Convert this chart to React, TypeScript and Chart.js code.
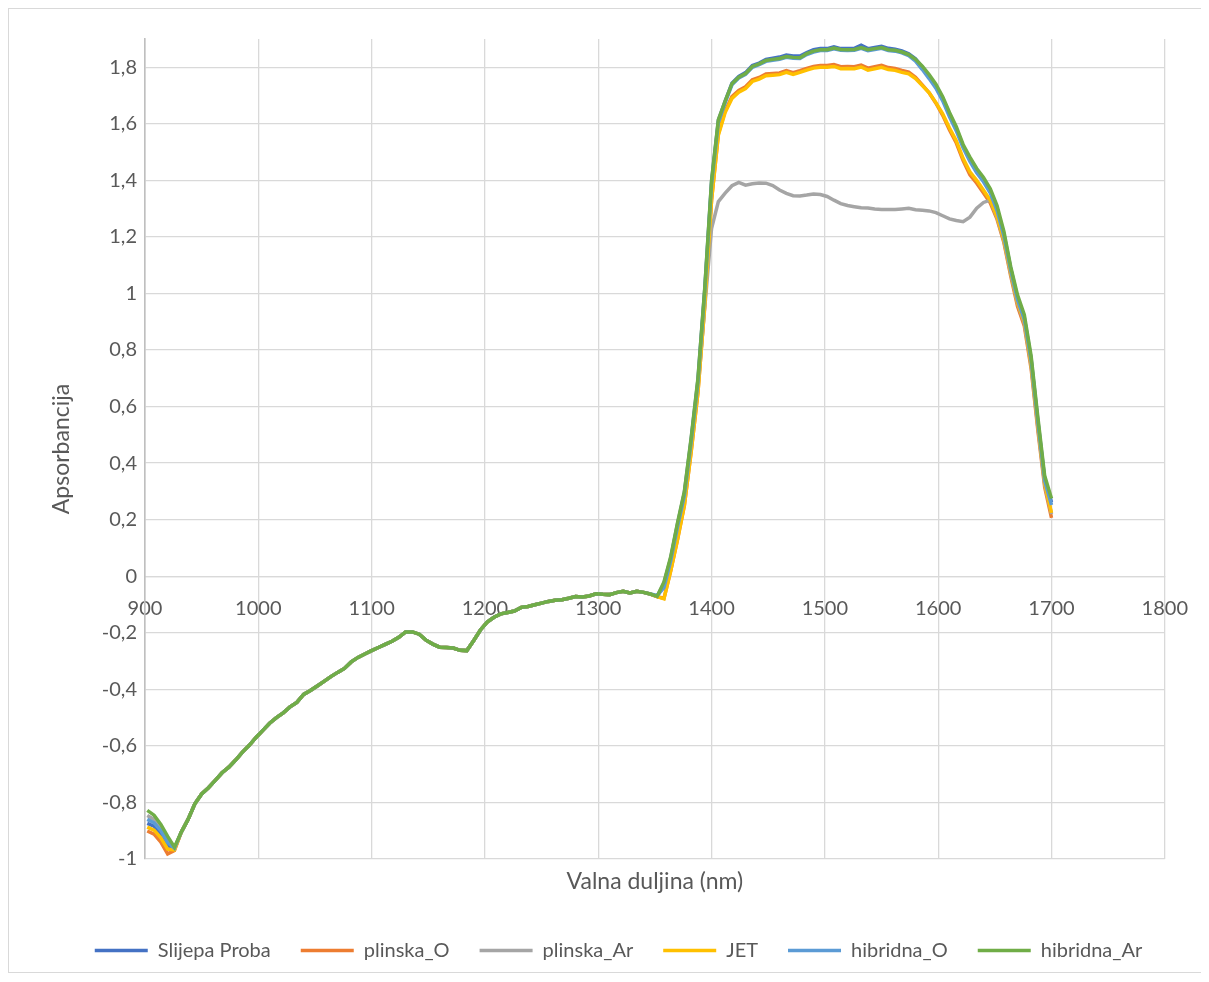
import React, { useEffect, useRef } from "react";
import { Chart, registerables } from "chart.js";

Chart.register(...registerables);

const wavelengths = [
  902, 908, 914, 920, 926, 932, 938, 944, 950, 956,
  962, 968, 974, 980, 986, 992, 998, 1004, 1010, 1016,
  1022, 1028, 1034, 1040, 1046, 1052, 1058, 1064, 1070, 1076,
  1082, 1088, 1094, 1100, 1106, 1112, 1118, 1124, 1130, 1136,
  1142, 1148, 1154, 1160, 1166, 1172, 1178, 1184, 1190, 1196,
  1202, 1208, 1214, 1220, 1226, 1232, 1238, 1244, 1250, 1256,
  1262, 1268, 1274, 1280, 1286, 1292, 1298, 1304, 1310, 1316,
  1322, 1328, 1334, 1340, 1346, 1352, 1358, 1364, 1370, 1376,
  1382, 1388, 1394, 1400, 1406, 1412, 1418, 1424, 1430, 1436,
  1442, 1448, 1454, 1460, 1466, 1472, 1478, 1484, 1490, 1496,
  1502, 1508, 1514, 1520, 1526, 1532, 1538, 1544, 1550, 1556,
  1562, 1568, 1574, 1580, 1586, 1592, 1598, 1604, 1610, 1616,
  1622, 1628, 1634, 1640, 1646, 1652, 1658, 1664, 1670, 1676,
  1682, 1688, 1694, 1700,
];

const slijepaProba = [
  -0.874, -0.884, -0.910, -0.952, -0.965, -0.905, -0.860, -0.805, -0.770, -0.748,
  -0.722, -0.695, -0.675, -0.650, -0.622, -0.598, -0.570, -0.545, -0.520, -0.500,
  -0.483, -0.462, -0.446, -0.418, -0.404, -0.388, -0.372, -0.355, -0.340, -0.326,
  -0.303, -0.287, -0.275, -0.263, -0.252, -0.241, -0.230, -0.216, -0.197, -0.197,
  -0.205, -0.226, -0.240, -0.251, -0.252, -0.254, -0.262, -0.263, -0.228, -0.190,
  -0.162, -0.145, -0.133, -0.128, -0.123, -0.110, -0.107, -0.101, -0.095, -0.089,
  -0.085, -0.083, -0.078, -0.072, -0.073, -0.070, -0.062, -0.064, -0.065, -0.058,
  -0.053, -0.059, -0.053, -0.057, -0.063, -0.072, -0.025, 0.065, 0.185, 0.295,
  0.485, 0.695, 1.015, 1.395, 1.612, 1.680, 1.744, 1.768, 1.781, 1.806,
  1.815, 1.828, 1.832, 1.836, 1.843, 1.840, 1.840, 1.852, 1.862, 1.866,
  1.866, 1.872, 1.866, 1.866, 1.867, 1.878, 1.866, 1.870, 1.874, 1.867,
  1.864, 1.858, 1.848, 1.830, 1.800, 1.768, 1.734, 1.690, 1.634, 1.582,
  1.522, 1.474, 1.434, 1.402, 1.362, 1.300, 1.210, 1.090, 0.985, 0.915,
  0.770, 0.550, 0.345, 0.262,
];

const plinskaO = [
  -0.901, -0.912, -0.940, -0.982, -0.970, -0.905, -0.860, -0.805, -0.770, -0.748,
  -0.722, -0.695, -0.675, -0.650, -0.622, -0.598, -0.570, -0.545, -0.520, -0.500,
  -0.483, -0.462, -0.446, -0.418, -0.404, -0.388, -0.372, -0.355, -0.340, -0.326,
  -0.303, -0.287, -0.275, -0.263, -0.252, -0.241, -0.230, -0.216, -0.197, -0.197,
  -0.205, -0.226, -0.240, -0.251, -0.252, -0.254, -0.262, -0.263, -0.228, -0.190,
  -0.162, -0.145, -0.133, -0.128, -0.123, -0.110, -0.107, -0.101, -0.095, -0.089,
  -0.085, -0.083, -0.078, -0.072, -0.073, -0.070, -0.062, -0.064, -0.065, -0.058,
  -0.053, -0.059, -0.053, -0.057, -0.063, -0.072, -0.078, 0.020, 0.130, 0.250,
  0.440, 0.650, 0.960, 1.330, 1.565, 1.645, 1.696, 1.718, 1.731, 1.756,
  1.764, 1.776, 1.778, 1.780, 1.788, 1.781, 1.788, 1.796, 1.803, 1.806,
  1.806, 1.810, 1.802, 1.803, 1.802, 1.808, 1.797, 1.802, 1.807, 1.799,
  1.796, 1.789, 1.783, 1.765, 1.738, 1.710, 1.673, 1.630, 1.578, 1.532,
  1.470, 1.420, 1.390, 1.355, 1.320, 1.262, 1.180, 1.062, 0.955, 0.885,
  0.735, 0.515, 0.315, 0.206,
];

const plinskaAr = [
  -0.846, -0.860, -0.890, -0.932, -0.962, -0.905, -0.860, -0.805, -0.770, -0.748,
  -0.722, -0.695, -0.675, -0.650, -0.622, -0.598, -0.570, -0.545, -0.520, -0.500,
  -0.483, -0.462, -0.446, -0.418, -0.404, -0.388, -0.372, -0.355, -0.340, -0.326,
  -0.303, -0.287, -0.275, -0.263, -0.252, -0.241, -0.230, -0.216, -0.197, -0.197,
  -0.205, -0.226, -0.240, -0.251, -0.252, -0.254, -0.262, -0.263, -0.228, -0.190,
  -0.162, -0.145, -0.133, -0.128, -0.123, -0.110, -0.107, -0.101, -0.095, -0.089,
  -0.085, -0.083, -0.078, -0.072, -0.073, -0.070, -0.062, -0.064, -0.065, -0.058,
  -0.053, -0.059, -0.053, -0.057, -0.063, -0.071, -0.030, 0.060, 0.175, 0.285,
  0.470, 0.670, 0.950, 1.230, 1.325, 1.355, 1.381, 1.393, 1.383, 1.388,
  1.391, 1.390, 1.382, 1.366, 1.354, 1.346, 1.345, 1.348, 1.352, 1.350,
  1.343, 1.330, 1.318, 1.311, 1.307, 1.303, 1.302, 1.299, 1.297, 1.297,
  1.297, 1.299, 1.301, 1.296, 1.294, 1.292, 1.286, 1.275, 1.264, 1.258,
  1.254, 1.270, 1.302, 1.322, 1.330, 1.268, 1.186, 1.070, 0.965, 0.895,
  0.745, 0.525, 0.325, 0.220,
];

const jet = [
  -0.887, -0.898, -0.925, -0.965, -0.968, -0.905, -0.860, -0.805, -0.770, -0.748,
  -0.722, -0.695, -0.675, -0.650, -0.622, -0.598, -0.570, -0.545, -0.520, -0.500,
  -0.483, -0.462, -0.446, -0.418, -0.404, -0.388, -0.372, -0.355, -0.340, -0.326,
  -0.303, -0.287, -0.275, -0.263, -0.252, -0.241, -0.230, -0.216, -0.197, -0.197,
  -0.205, -0.226, -0.240, -0.251, -0.252, -0.254, -0.262, -0.263, -0.228, -0.190,
  -0.162, -0.145, -0.133, -0.128, -0.123, -0.110, -0.107, -0.101, -0.095, -0.089,
  -0.085, -0.083, -0.078, -0.072, -0.073, -0.070, -0.062, -0.064, -0.065, -0.058,
  -0.053, -0.059, -0.053, -0.057, -0.063, -0.072, -0.080, 0.020, 0.130, 0.250,
  0.440, 0.650, 0.960, 1.330, 1.560, 1.640, 1.690, 1.712, 1.725, 1.750,
  1.758, 1.770, 1.772, 1.774, 1.782, 1.775, 1.782, 1.790, 1.797, 1.800,
  1.800, 1.803, 1.795, 1.796, 1.795, 1.801, 1.790, 1.795, 1.800, 1.792,
  1.789, 1.782, 1.777, 1.760, 1.735, 1.710, 1.675, 1.635, 1.585, 1.540,
  1.478, 1.430, 1.400, 1.365, 1.330, 1.272, 1.190, 1.075, 0.970, 0.900,
  0.750, 0.530, 0.330, 0.224,
];

const hibridnaO = [
  -0.860, -0.872, -0.900, -0.942, -0.962, -0.905, -0.860, -0.805, -0.770, -0.748,
  -0.722, -0.695, -0.675, -0.650, -0.622, -0.598, -0.570, -0.545, -0.520, -0.500,
  -0.483, -0.462, -0.446, -0.418, -0.404, -0.388, -0.372, -0.355, -0.340, -0.326,
  -0.303, -0.287, -0.275, -0.263, -0.252, -0.241, -0.230, -0.216, -0.197, -0.197,
  -0.205, -0.226, -0.240, -0.251, -0.252, -0.254, -0.262, -0.263, -0.228, -0.190,
  -0.162, -0.145, -0.133, -0.128, -0.123, -0.110, -0.107, -0.101, -0.095, -0.089,
  -0.085, -0.083, -0.078, -0.072, -0.073, -0.070, -0.062, -0.064, -0.065, -0.058,
  -0.053, -0.059, -0.053, -0.057, -0.063, -0.068, -0.040, 0.055, 0.175, 0.285,
  0.475, 0.685, 1.005, 1.385, 1.605, 1.675, 1.738, 1.762, 1.775, 1.800,
  1.809, 1.821, 1.825, 1.828, 1.835, 1.832, 1.831, 1.845, 1.854, 1.859,
  1.859, 1.865, 1.860, 1.859, 1.860, 1.867, 1.859, 1.863, 1.867, 1.859,
  1.857, 1.851, 1.841, 1.822, 1.792, 1.760, 1.726, 1.681, 1.625, 1.575,
  1.515, 1.467, 1.427, 1.395, 1.355, 1.293, 1.203, 1.083, 0.978, 0.908,
  0.763, 0.543, 0.338, 0.252,
];

const hibridnaAr = [
  -0.828, -0.845, -0.878, -0.920, -0.958, -0.905, -0.860, -0.805, -0.770, -0.748,
  -0.722, -0.695, -0.675, -0.650, -0.622, -0.598, -0.570, -0.545, -0.520, -0.500,
  -0.483, -0.462, -0.446, -0.418, -0.404, -0.388, -0.372, -0.355, -0.340, -0.326,
  -0.303, -0.287, -0.275, -0.263, -0.252, -0.241, -0.230, -0.216, -0.197, -0.197,
  -0.205, -0.226, -0.240, -0.251, -0.252, -0.254, -0.262, -0.263, -0.228, -0.190,
  -0.162, -0.145, -0.133, -0.128, -0.123, -0.110, -0.107, -0.101, -0.095, -0.089,
  -0.085, -0.083, -0.078, -0.072, -0.073, -0.070, -0.062, -0.064, -0.065, -0.058,
  -0.053, -0.059, -0.053, -0.057, -0.063, -0.071, -0.020, 0.070, 0.190, 0.300,
  0.490, 0.700, 1.020, 1.400, 1.615, 1.680, 1.742, 1.765, 1.778, 1.803,
  1.812, 1.824, 1.828, 1.831, 1.838, 1.835, 1.834, 1.848, 1.857, 1.862,
  1.862, 1.868, 1.863, 1.862, 1.863, 1.870, 1.862, 1.866, 1.870, 1.862,
  1.860, 1.854, 1.845, 1.828, 1.804, 1.774, 1.740, 1.696, 1.640, 1.590,
  1.527, 1.482, 1.442, 1.410, 1.370, 1.310, 1.220, 1.095, 0.995, 0.925,
  0.780, 0.562, 0.355, 0.275,
];

const seriesNames = ["Slijepa Proba", "plinska_O", "plinska_Ar", "JET", "hibridna_O", "hibridna_Ar"];
const seriesColors = ["#4472C4", "#ED7D31", "#A5A5A5", "#FFC000", "#5B9BD5", "#70AD47"];

const xTitle = "Valna duljina (nm)";
const yTitle = "Apsorbancija";

const FONT = "Lato, 'Liberation Sans', sans-serif";
const TEXT = "#595959";

export default function App() {
  const ref = useRef<HTMLCanvasElement | null>(null);

  useEffect(() => {
    if (!ref.current) return;
    const allSeries = [slijepaProba, plinskaO, plinskaAr, jet, hibridnaO, hibridnaAr];
    const chart = new Chart(ref.current, {
      type: "line",
      data: {
        datasets: allSeries.map((vals, i) => ({
          label: seriesNames[i],
          data: vals.map((v, j) => ({ x: wavelengths[j], y: v })),
          borderColor: seriesColors[i],
          backgroundColor: seriesColors[i],
          borderWidth: 3.5,
          pointRadius: 0,
          pointHoverRadius: 0,
          tension: 0,
          xAxisID: "x",
          yAxisID: "y",
          order: 6 - i,
        })),
      },
      options: {
        responsive: false,
        animation: false,
        layout: { padding: { left: 20, right: 0, top: 30, bottom: 1.4 } },
        plugins: {
          tooltip: { enabled: false },
          legend: {
            position: "bottom",
            labels: {
              usePointStyle: true,
              pointStyle: "line",
              pointStyleWidth: 53,
              padding: 30,
              color: TEXT,
              font: { family: FONT, size: 20 },
              sort: (a: any, b: any) => a.datasetIndex - b.datasetIndex,
            },
          },
        },
        scales: {
          x: {
            type: "linear",
            min: 900,
            max: 1800,
            position: { y: 0 } as any,
            ticks: {
              stepSize: 100,
              padding: 20,
              color: TEXT,
              font: { family: FONT, size: 20 },
              maxRotation: 0,
              autoSkip: false,
              includeBounds: false,
              callback: (v: any) => String(Math.round(Number(v))),
            },
            grid: { color: "#d9d9d9", lineWidth: 1.3, drawTicks: false },
            border: { color: "#d9d9d9", width: 1.3 },
          },
          x2: {
            type: "linear",
            position: "bottom",
            ticks: { display: false },
            grid: { display: false, drawTicks: false },
            border: { display: false },
            title: {
              display: true,
              text: xTitle,
              color: TEXT,
              font: { family: FONT, size: 23 },
              padding: { top: 9, bottom: 15 },
            },
          },
          y: {
            type: "linear",
            position: "left",
            min: -1,
            max: 1.9,
            afterFit: (s: any) => {
              s.width = 116;
            },
            ticks: {
              stepSize: 0.2,
              includeBounds: false,
              padding: 8,
              color: TEXT,
              font: { family: FONT, size: 20 },
              callback: (v: any) => String(Math.round(Number(v) * 10) / 10).replace(".", ","),
            },
            grid: { color: "#d9d9d9", lineWidth: 1.3, drawTicks: false },
            border: { color: "#bfbfbf", width: 1.6 },
            title: {
              display: true,
              text: yTitle,
              color: TEXT,
              font: { family: FONT, size: 23 },
              padding: { top: 19, bottom: 0 },
            },
          },
          y2: {
            type: "linear",
            position: "right",
            afterFit: (s: any) => {
              s.width = 42;
            },
            ticks: { display: false },
            grid: { display: false, drawTicks: false },
            border: { display: false },
          },
        },
      } as any,
    });
    return () => chart.destroy();
  }, []);

  return (
    <div
      style={{
        width: 1201,
        height: 965,
        boxSizing: "border-box",
        border: "1px solid #d9d9d9",
        background: "#fff",
      }}
    >
      <canvas ref={ref} width={1199} height={963} style={{ display: "block" }} />
    </div>
  );
}
